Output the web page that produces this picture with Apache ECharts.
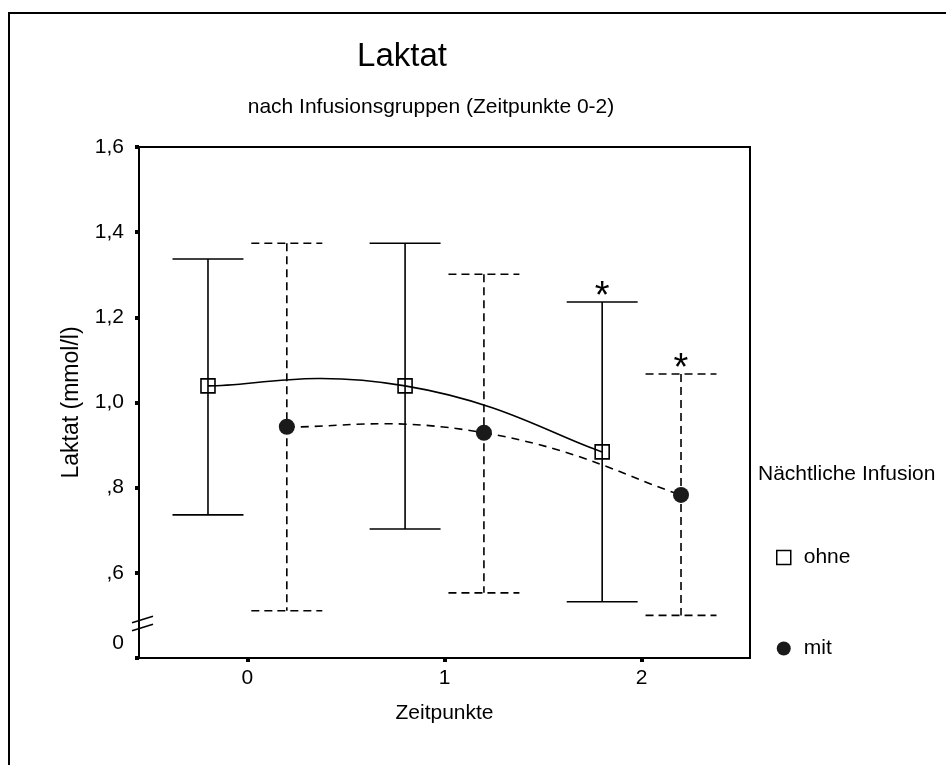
<!DOCTYPE html>
<html><head><meta charset="utf-8">
<script src="https://cdn.jsdelivr.net/npm/echarts@6/dist/echarts.min.js"></script>
<style>html,body{margin:0;padding:0;background:#fff}#c{width:946px;height:765px}</style>
</head><body><div id="c"></div>
<script>
// ---- data ----
const timepoints = [0, 1, 2];
const xTickLabels = ['0', '1', '2'];
const yTickValues = [0.6, 0.8, 1.0, 1.2, 1.4, 1.6];
const yTickLabels = [',6', ',8', '1,0', '1,2', '1,4', '1,6'];
const yBreakValue = 0.434;
const yBreakLabel = '0';
const groupNames = ['ohne', 'mit'];
const ohneMean  = [1.039, 1.039, 0.884];
const ohneUpper = [1.337, 1.374, 1.236];
const ohneLower = [0.736, 0.703, 0.532];
const mitMean   = [0.943, 0.929, 0.783];
const mitUpper  = [1.374, 1.301, 1.067];
const mitLower  = [0.511, 0.553, 0.500];
const significant = [false, false, true];

// ---- layout / style ----
const FONT = '"Liberation Sans", Arial, sans-serif';
const OFFSET = 0.2;
const CAP = 0.18;
const chart = echarts.init(document.getElementById('c'), null, {renderer: 'canvas'});

function errorBars(name, offset, upper, lower, dash) {
  return {
    type: 'custom', name: name, z: 2, silent: true,
    data: timepoints.map((t, i) => [t + offset, lower[i], upper[i], significant[i] ? 1 : 0]),
    encode: {x: 0, y: [1, 2]},
    renderItem: function (params, api) {
      const x = api.value(0);
      const lo = api.coord([x, api.value(1)]);
      const hi = api.coord([x, api.value(2)]);
      const half = api.size([CAP, 0])[0];
      const st = {stroke: '#000', lineWidth: 1.6, lineDash: dash, fill: null};
      const ch = [
        {type: 'line', shape: {x1: hi[0], y1: hi[1], x2: lo[0], y2: lo[1]}, style: st},
        {type: 'line', shape: {x1: hi[0] - half, y1: hi[1], x2: hi[0] + half, y2: hi[1]}, style: st},
        {type: 'line', shape: {x1: lo[0] - half, y1: lo[1], x2: lo[0] + half, y2: lo[1]}, style: st}
      ];
      if (api.value(3)) {
        ch.push({type: 'text', style: {text: '*', x: hi[0], y: hi[1] - 4, align: 'center',
          verticalAlign: 'middle', font: '38px ' + FONT, fill: '#000'}});
      }
      return {type: 'group', children: ch};
    }
  };
}

function curve(name, offset, mean, dash) {
  return {
    type: 'custom', name: name, z: 2, silent: true,
    data: timepoints.map((t, i) => [t + offset, mean[i]]),
    encode: {x: 0, y: 1},
    renderItem: function (params, api) {
      const i = params.dataIndexInside, n = params.dataInsideLength;
      if (i >= n - 1) return {type: 'group', children: []};
      const P = k => { k = Math.max(0, Math.min(n - 1, k)); return api.coord([api.value(0, k), api.value(1, k)]); };
      const p0 = P(i - 1), p1 = P(i), p2 = P(i + 1), p3 = P(i + 2);
      const s = 0.25;
      return {type: 'bezierCurve', shape: {
        x1: p1[0], y1: p1[1], x2: p2[0], y2: p2[1],
        cpx1: p1[0] + (p2[0] - p0[0]) * s, cpy1: p1[1] + (p2[1] - p0[1]) * s,
        cpx2: p2[0] - (p3[0] - p1[0]) * s, cpy2: p2[1] - (p3[1] - p1[1]) * s},
        style: {stroke: '#000', lineWidth: 1.6, fill: null, lineDash: dash}};
    }
  };
}

const option = {
  animation: false,
  backgroundColor: '#fff',
  textStyle: {fontFamily: FONT, color: '#000'},
  title: [
    {text: 'Laktat', left: 402, top: 40, textAlign: 'center', padding: 0,
     textStyle: {fontSize: 33, fontWeight: 'normal', fontFamily: FONT, color: '#000'}},
    {text: 'nach Infusionsgruppen (Zeitpunkte 0-2)', left: 431, top: 97, textAlign: 'center', padding: 0,
     textStyle: {fontSize: 21, fontWeight: 'normal', fontFamily: FONT, color: '#000'}}
  ],
  grid: {left: 139, top: 147, width: 611, height: 511, show: true, borderColor: '#000', borderWidth: 2, backgroundColor: 'transparent'},
  xAxis: {
    type: 'value', min: -0.55, max: 2.55,
    name: 'Zeitpunkte', nameLocation: 'middle', nameGap: 45,
    nameTextStyle: {fontSize: 21, fontFamily: FONT, color: '#000'},
    axisLine: {onZero: false, lineStyle: {color: '#000', width: 2}},
    axisTick: {customValues: timepoints, length: 4, lineStyle: {width: 4, color: '#000'}},
    axisLabel: {customValues: timepoints, margin: 10, fontSize: 21, fontFamily: FONT, color: '#000',
      formatter: v => xTickLabels[timepoints.indexOf(v)]},
    splitLine: {show: false}
  },
  yAxis: {
    type: 'value', min: 0.4, max: 1.6,
    name: 'Laktat (mmol/l)', nameLocation: 'middle', nameGap: 56,
    nameTextStyle: {fontSize: 23, fontFamily: FONT, color: '#000'},
    axisLine: {onZero: false, lineStyle: {color: '#000', width: 2}},
    axisTick: {customValues: [0.4].concat(yTickValues), length: 4, lineStyle: {width: 4, color: '#000'}},
    axisLabel: {customValues: [yBreakValue].concat(yTickValues), margin: 15, fontSize: 21, fontFamily: FONT, color: '#000',
      formatter: v => { const i = yTickValues.findIndex(t => Math.abs(t - v) < 1e-6); return i >= 0 ? yTickLabels[i] : yBreakLabel; }},
    splitLine: {show: false}
  },
  legend: {
    orient: 'vertical', left: 771, top: 542, itemWidth: 14, itemHeight: 14, itemGap: 70,
    selectedMode: false,
    textStyle: {fontSize: 21, fontFamily: FONT, color: '#000', padding: [0, 0, 8, 8]},
    data: [
      {name: groupNames[0], icon: 'rect', itemStyle: {color: 'rgba(0,0,0,0)', borderColor: '#000', borderWidth: 1.5, opacity: 1}},
      {name: groupNames[1], icon: 'circle', itemStyle: {color: '#1a1a1a', borderWidth: 0, opacity: 1}}
    ]
  },
  series: [
    errorBars('ohne-err', -OFFSET, ohneUpper, ohneLower, null),
    errorBars('mit-err', OFFSET, mitUpper, mitLower, [8, 5]),
    curve('ohne-line', -OFFSET, ohneMean, null),
    curve('mit-line', OFFSET, mitMean, [8, 6]),
    {
      type: 'scatter', name: groupNames[0], z: 3,
      data: timepoints.map((t, i) => [t - OFFSET, ohneMean[i]]),
      symbol: 'rect', symbolSize: 14,
      itemStyle: {color: 'rgba(0,0,0,0)', borderColor: '#000', borderWidth: 1.6, opacity: 1}
    },
    {
      type: 'scatter', name: groupNames[1], z: 3,
      data: timepoints.map((t, i) => [t + OFFSET, mitMean[i]]),
      symbol: 'circle', symbolSize: 16,
      itemStyle: {color: '#1a1a1a', borderWidth: 0, opacity: 1}
    }
  ]
};
chart.setOption(option);

// decorations: outer frame, axis break marks, legend title
const axX = chart.convertToPixel({xAxisIndex: 0}, -0.55);
const brY = chart.convertToPixel({yAxisIndex: 0}, 0.49);
chart.setOption({
  graphic: [
    {type: 'rect', shape: {x: 9, y: 13, width: 1000, height: 800}, style: {fill: null, stroke: '#000', lineWidth: 2}, z: 100, silent: true},
    {type: 'line', shape: {x1: axX - 7, y1: brY + 3, x2: axX + 14, y2: brY - 3.5}, style: {stroke: '#000', lineWidth: 1.6}, z: 100},
    {type: 'line', shape: {x1: axX - 7, y1: brY + 11, x2: axX + 14, y2: brY + 4.5}, style: {stroke: '#000', lineWidth: 1.6}, z: 100},
    {type: 'text', style: {text: 'Nächtliche Infusion', x: 758, y: 474, verticalAlign: 'middle', font: '21px ' + FONT, fill: '#000'}, z: 100}
  ]
});
</script>
</body></html>
